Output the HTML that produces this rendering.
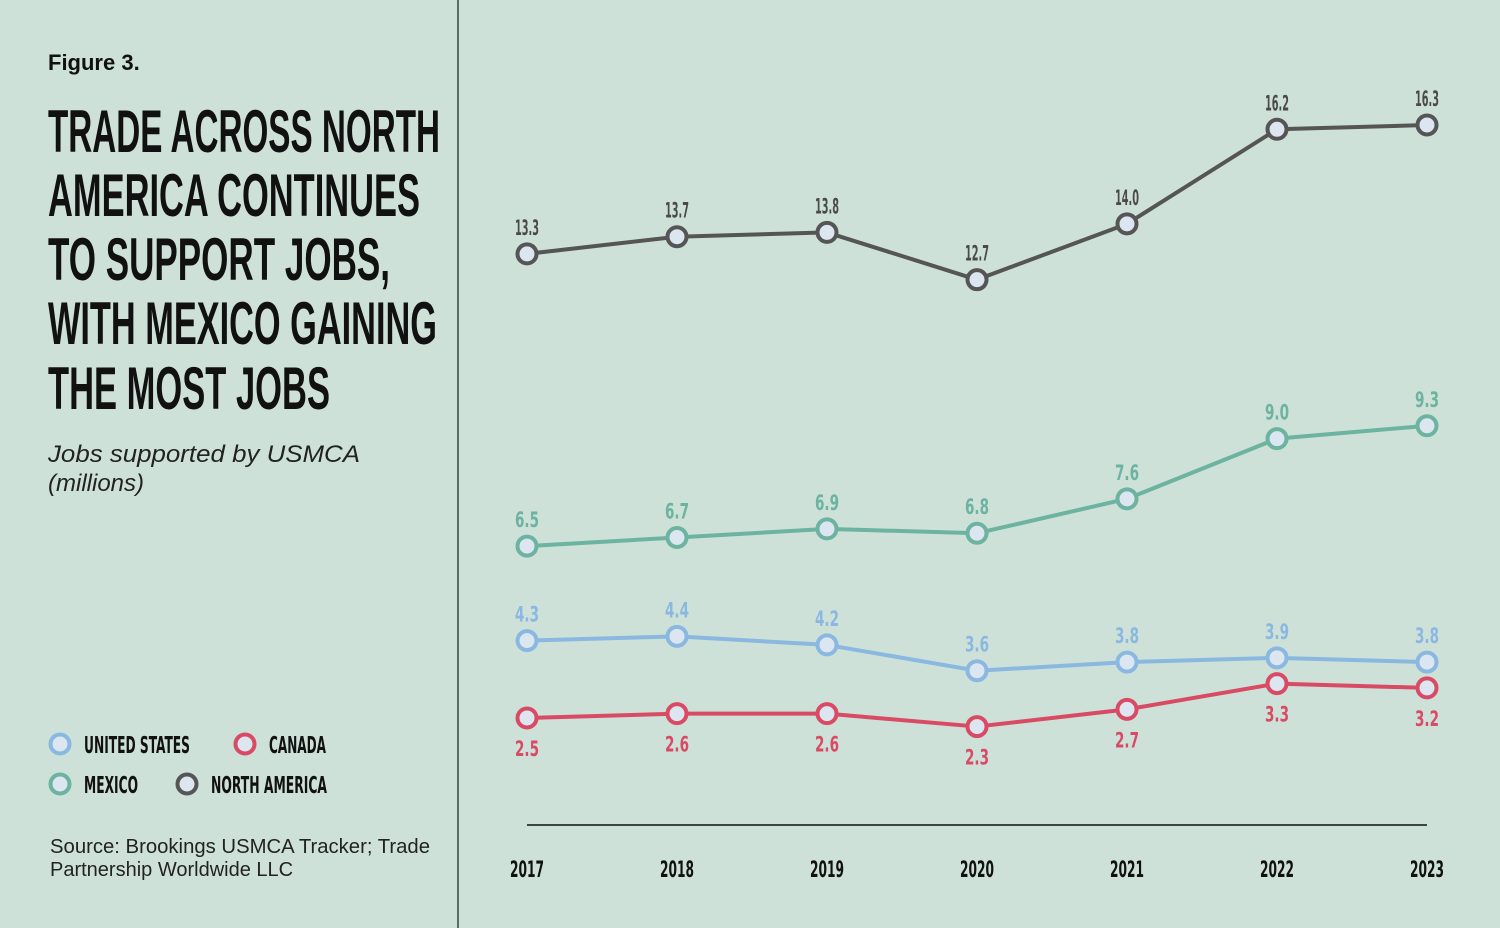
<!DOCTYPE html>
<html><head><meta charset="utf-8"><style>
html,body{margin:0;padding:0;background:#cee1d9;}
svg{display:block;}
</style></head><body>
<svg width="1500" height="928" viewBox="0 0 1500 928" xmlns="http://www.w3.org/2000/svg">
<rect x="0" y="0" width="1500" height="928" fill="#cee1d9"/>
<line x1="458" y1="0" x2="458" y2="928" stroke="#5d6b67" stroke-width="2"/>
<text x="48" y="70" font-family="Liberation Sans, sans-serif" font-weight="bold" font-size="22" fill="#111">Figure 3.</text>
<g font-family="Liberation Sans, sans-serif" font-weight="bold" font-size="60" fill="#111">
<text x="48" y="152" textLength="392" lengthAdjust="spacingAndGlyphs">TRADE ACROSS NORTH</text>
<text x="48" y="216" textLength="372" lengthAdjust="spacingAndGlyphs">AMERICA CONTINUES</text>
<text x="48" y="280" textLength="342" lengthAdjust="spacingAndGlyphs">TO SUPPORT JOBS,</text>
<text x="48" y="344" textLength="389" lengthAdjust="spacingAndGlyphs">WITH MEXICO GAINING</text>
<text x="48" y="409" textLength="282" lengthAdjust="spacingAndGlyphs">THE MOST JOBS</text>
</g>
<g font-family="Liberation Sans, sans-serif" font-style="italic" font-size="24" fill="#222">
<text x="48" y="462" textLength="312" lengthAdjust="spacingAndGlyphs">Jobs supported by USMCA</text>
<text x="48" y="491">(millions)</text>
</g>
<g id="legend"></g>
<g font-family="Liberation Sans, sans-serif" font-size="20" fill="#222">
<text x="50" y="853" textLength="380" lengthAdjust="spacingAndGlyphs">Source: Brookings USMCA Tracker; Trade</text>
<text x="50" y="876">Partnership Worldwide LLC</text>
</g>
<line x1="527" y1="825" x2="1427" y2="825" stroke="#111" stroke-width="1.5"/>
<g id="xticks"></g>
<g id="series"></g>
</svg>
<script>
const years = ["2017","2018","2019","2020","2021","2022","2023"];
const northAmerica = [13.3, 13.7, 13.8, 12.7, 14.0, 16.2, 16.3];
const mexico = [6.5, 6.7, 6.9, 6.8, 7.6, 9.0, 9.3];
const unitedStates = [4.3, 4.4, 4.2, 3.6, 3.8, 3.9, 3.8];
const canada = [2.5, 2.6, 2.6, 2.3, 2.7, 3.3, 3.2];

const NS = "http://www.w3.org/2000/svg";
const xPos = i => 527 + i * 150;
const yPos = v => 825.4 - 42.97 * v;
const cond = 'DejaVu Sans Condensed, Liberation Sans, sans-serif';

function mk(tag, attrs, parent){
  const e = document.createElementNS(NS, tag);
  for (const k in attrs) e.setAttribute(k, attrs[k]);
  parent.appendChild(e);
  return e;
}

const xg = document.getElementById('xticks');
years.forEach((y, i) => {
  const t = mk('text', {x: xPos(i), y: 877, 'text-anchor': 'middle', 'font-family': cond, 'font-weight': 'bold', 'font-size': 22, fill: '#111', textLength: 34, lengthAdjust: 'spacingAndGlyphs'}, xg);
  
  
  t.textContent = y;
});

const seriesDefs = [
  {name: 'north-america', data: northAmerica, color: '#555555', label: '#4a4a4a', above: true},
  {name: 'mexico', data: mexico, color: '#6cb3a0', label: '#6cb3a0', above: true},
  {name: 'united-states', data: unitedStates, color: '#8ab8e0', label: '#8ab8e0', above: true},
  {name: 'canada', data: canada, color: '#d94b65', label: '#d94b65', above: false}
];
const sg = document.getElementById('series');
seriesDefs.forEach(s => {
  const g = mk('g', {}, sg);
  
  
  const pts = s.data.map((v, i) => xPos(i) + ',' + yPos(v)).join(' ');
  const pl = mk('polyline', {points: pts, fill: 'none', stroke: s.color, 'stroke-width': 4, 'stroke-linejoin': 'round'}, g);
  
  
  s.data.forEach((v, i) => {
    const c = mk('circle', {cx: xPos(i), cy: yPos(v), r: 9.5, fill: '#dce6f0', stroke: s.color, 'stroke-width': 4}, g);
    
    
    const ty = s.above ? yPos(v) - 19 : yPos(v) + 38;
    const t = mk('text', {x: xPos(i), y: ty, 'text-anchor': 'middle', 'font-family': cond, 'font-weight': 'bold', 'font-size': 21, fill: s.label, textLength: 24, lengthAdjust: 'spacingAndGlyphs'}, g);
    
    
    t.textContent = v.toFixed(1);
  });
});

const legendItems = [
  {label: 'UNITED STATES', color: '#8ab8e0', x: 60, y: 744, w: 106},
  {label: 'CANADA', color: '#d94b65', x: 245, y: 744, w: 57},
  {label: 'MEXICO', color: '#6cb3a0', x: 60, y: 784, w: 54},
  {label: 'NORTH AMERICA', color: '#555555', x: 187, y: 784, w: 116}
];
const lg = document.getElementById('legend');
legendItems.forEach(it => {
  const g = mk('g', {}, lg);
  
  
  mk('circle', {cx: it.x, cy: it.y, r: 9.5, fill: '#dce6f0', stroke: it.color, 'stroke-width': 4}, g);
  const t = mk('text', {x: it.x + 24, y: it.y + 9, 'font-family': cond, 'font-weight': 'bold', 'font-size': 23, fill: '#111', textLength: it.w, lengthAdjust: 'spacingAndGlyphs'}, g);
  t.textContent = it.label;
});
</script>
</body></html>
